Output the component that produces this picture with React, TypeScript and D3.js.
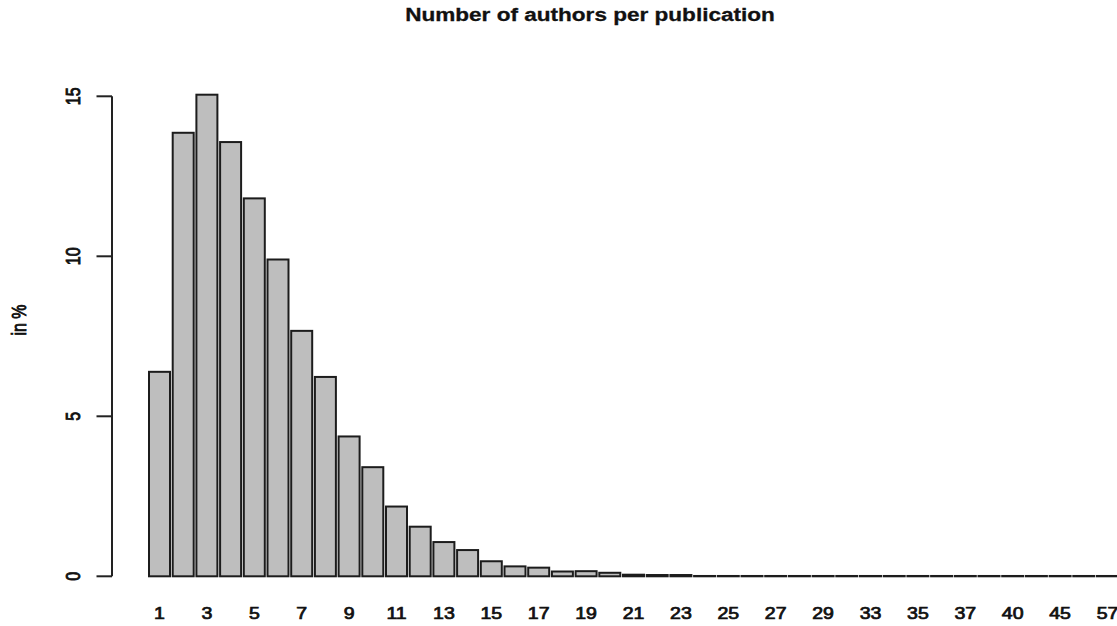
import React from "react";
import * as d3 from "d3";

const categories: string[] = [
  "1","2","3","4","5","6","7","8","9","10",
  "11","12","13","14","15","16","17","18","19","20",
  "21","22","23","24","25","26","27","28","29","31",
  "33","34","35","36","37","38","40","42","45","50","57",
];

const percentValues: number[] = [
  6.39, 13.86, 15.05, 13.57, 11.81, 9.9, 7.67, 6.23, 4.37, 3.41,
  2.18, 1.55, 1.07, 0.82, 0.47, 0.31, 0.27, 0.15, 0.16, 0.11,
  0.05, 0.04, 0.04, 0.01, 0.01, 0.01, 0.01, 0.01, 0.01, 0.01,
  0.01, 0.01, 0.01, 0.01, 0.01, 0.01, 0.01, 0.01, 0.01, 0.01, 0.01,
];

const yTicks: number[] = [0, 5, 10, 15];

const titleText = "Number of authors per publication";
const yLabel = "in %";

const W = 1117;
const H = 626;
const SX = 1.22; // horizontal stretch of the reference image

const Txt: React.FC<{
  x: number; y: number; size: number; bold?: boolean; rotate?: number;
  anchor?: string; sw?: number; children: React.ReactNode;
}> = ({ x, y, size, bold, rotate = 0, anchor = "middle", sw = 0, children }) => (
  <g transform={`translate(${x},${y}) scale(${SX},1) rotate(${rotate})`}>
    <text
      x={0}
      y={0}
      fontFamily="'Liberation Sans', Arial, sans-serif"
      fontSize={size}
      fontWeight={bold ? "bold" : "normal"}
      textAnchor={anchor}
      fill="#111"
      stroke={sw > 0 ? "#111" : "none"}
      strokeWidth={sw}
    >
      {children}
    </text>
  </g>
);

export default function App() {
  const step = 23.7;
  const pIn = 0.114;
  const x0 = 149 - (pIn * step) / 2;
  const x = d3
    .scaleBand<string>()
    .domain(categories)
    .range([x0, x0 + step * categories.length])
    .paddingInner(pIn)
    .paddingOuter(pIn / 2);
  const y = d3.scaleLinear().domain([0, 15]).range([576.3, 96.3]);

  const axisX = 112;

  return (
    <svg
      width={W}
      height={H}
      style={{ position: "absolute", left: 0, top: 0, display: "block", background: "#fff" }}
    >
      <rect x={0} y={0} width={W} height={H} fill="#fff" />
      <Txt x={590} y={21} size={18.5} bold sw={0.3}>
        {titleText}
      </Txt>

      {categories.map((c, i) => {
        const v = percentValues[i];
        const top = y(v);
        return (
          <rect
            key={c}
            x={x(c)!}
            y={top}
            width={x.bandwidth()}
            height={Math.max(0, y(0) - top)}
            fill="#bebebe"
            stroke="#1c1c1c"
            strokeWidth={2}
          />
        );
      })}

      {/* y axis */}
      <line x1={axisX} x2={axisX} y1={y(0)} y2={y(15)} stroke="#222" strokeWidth={2} />
      {yTicks.map((t) => (
        <g key={t}>
          <line x1={96.5} x2={axisX} y1={y(t)} y2={y(t)} stroke="#222" strokeWidth={2} />
          <Txt x={79.5} y={y(t)} size={16} rotate={-90} sw={0.75}>
            {String(t)}
          </Txt>
        </g>
      ))}
      <Txt x={25.5} y={320} size={16} rotate={-90} sw={0.75}>
        {yLabel}
      </Txt>

      {/* x labels */}
      {categories.map((c, i) =>
        i % 2 === 0 ? (
          <Txt key={c} x={x(c)! + x.bandwidth() / 2} y={619} size={16} sw={0.75}>
            {c}
          </Txt>
        ) : null
      )}
    </svg>
  );
}
